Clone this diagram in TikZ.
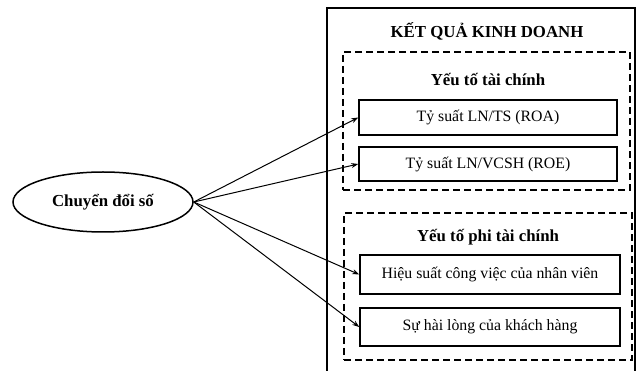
\documentclass[tikz,border=0pt]{standalone}
\usepackage{fontspec}
\setmainfont{Liberation Serif}
\usetikzlibrary{arrows.meta,shapes.geometric}
\begin{document}
\begin{tikzpicture}[x=1pt,y=-1pt,
 box/.style={draw,line width=1.5pt,minimum width=258pt,minimum height=35pt,inner sep=0pt,font=\fontsize{15.8}{18}\selectfont},
 grp/.style={draw,line width=1.3pt,dash pattern=on 7pt off 4pt,inner sep=0pt},
 head/.style={font=\bfseries\fontsize{16.8}{19}\selectfont},
 arr/.style={-{Stealth[length=7pt,width=5pt]},line width=1pt}]
\useasboundingbox (0,0) rectangle (643,371);
% outer box (bottom edge lies below the picture)
\draw[line width=1.3pt] (327,375) -- (327,8) -- (635,8) -- (635,375);
\node[head] (title) at (487,31) {KẾT QUẢ KINH DOANH};
% financial group
\node[grp,minimum width=287pt,minimum height=138pt] (fin) at (486.5,121) {};
\node[head] (finh) at (488,79) {Yếu tố tài chính};
\node[box] (roa) at (488,117.5) {Tỷ suất LN/TS (ROA)};
\node[box,minimum height=34pt] (roe) at (488,164) {Tỷ suất LN/VCSH (ROE)};
% non-financial group
\node[grp,minimum width=288pt,minimum height=147pt] (nfin) at (488,286.5) {};
\node[head] (nfinh) at (488,237) {Yếu tố phi tài chính};
\node[box,minimum width=260pt,minimum height=39pt] (hs) at (490,274.5) {Hiệu suất công việc của nhân viên};
\node[box,minimum width=260pt,minimum height=38pt] (hl) at (490,327) {Sự hài lòng của khách hàng};
% left ellipse
\node[draw,ellipse,line width=1.5pt,minimum width=180pt,minimum height=60pt,inner sep=0pt,head] (cds) at (103,202) {Chuyển đổi số};
% connectors
\draw[arr] (cds.east) -- (roa.west);
\draw[arr] (cds.east) -- (roe.west);
\draw[arr] (cds.east) -- (hs.west);
\draw[arr] (cds.east) -- (hl.west);
\end{tikzpicture}
\end{document}
